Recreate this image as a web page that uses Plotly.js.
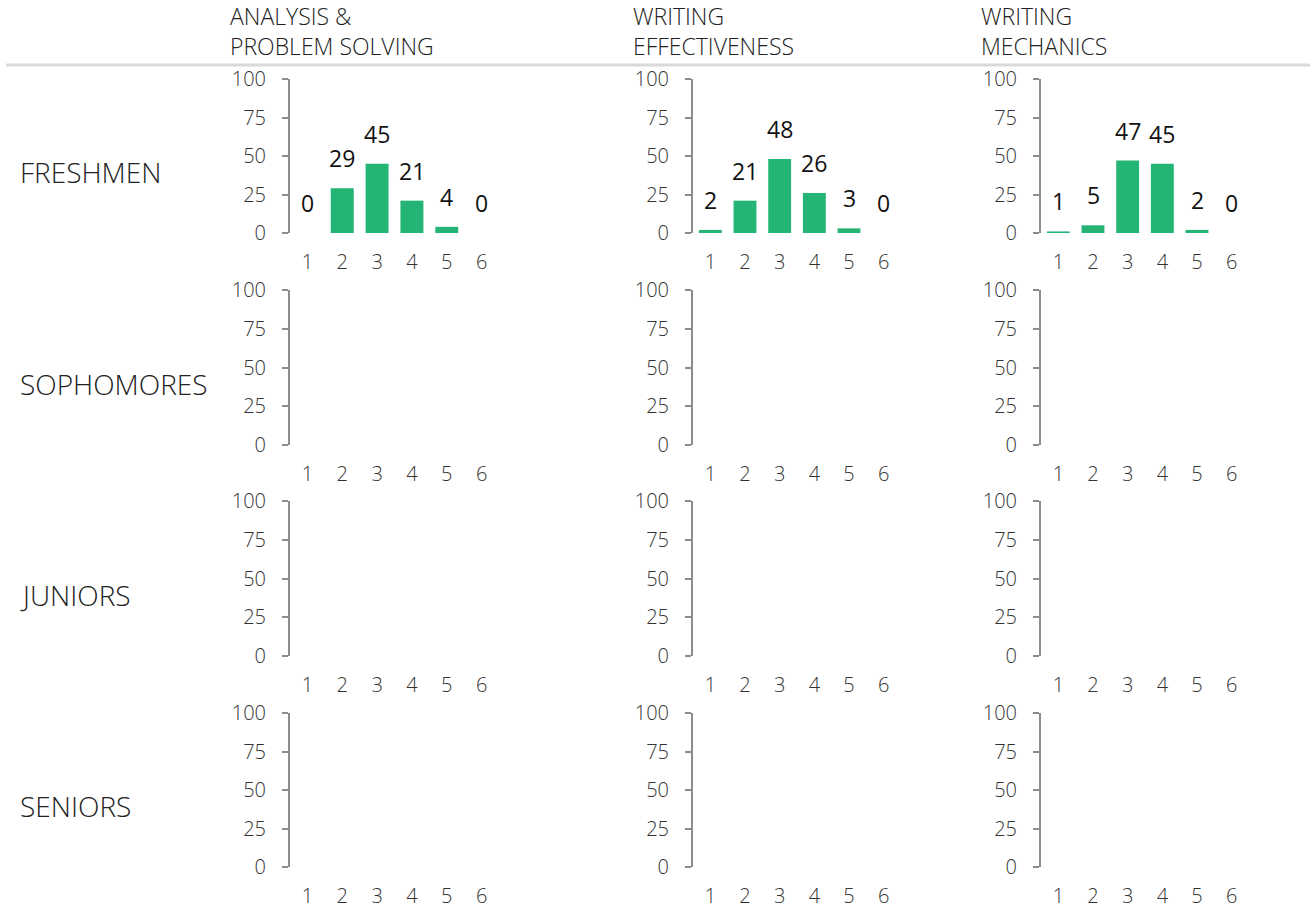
<!DOCTYPE html>
<html>
<head>
<meta charset="utf-8">
<script src="https://cdn.plot.ly/plotly-3.0.1.min.js"></script>
<style>html,body{margin:0;padding:0;background:#fff;}#chart{width:1310px;height:909px;}</style>
</head>
<body>
<div id="chart"></div>
<script>
// ---- data ----
const scores = [1, 2, 3, 4, 5, 6];
const columns = ["ANALYSIS &<br>PROBLEM SOLVING", "WRITING<br>EFFECTIVENESS", "WRITING<br>MECHANICS"];
const rows = ["FRESHMEN", "SOPHOMORES", "JUNIORS", "SENIORS"];
const yTicks = [0, 25, 50, 75, 100];

const freshmenAnalysis = [0, 29, 45, 21, 4, 0];
const freshmenEffectiveness = [2, 21, 48, 26, 3, 0];
const freshmenMechanics = [1, 5, 47, 45, 2, 0];
const sophomoresAnalysis = [];
const sophomoresEffectiveness = [];
const sophomoresMechanics = [];
const juniorsAnalysis = [];
const juniorsEffectiveness = [];
const juniorsMechanics = [];
const seniorsAnalysis = [];
const seniorsEffectiveness = [];
const seniorsMechanics = [];

const grid = [
  [freshmenAnalysis, freshmenEffectiveness, freshmenMechanics],
  [sophomoresAnalysis, sophomoresEffectiveness, sophomoresMechanics],
  [juniorsAnalysis, juniorsEffectiveness, juniorsMechanics],
  [seniorsAnalysis, seniorsEffectiveness, seniorsMechanics]
];

// ---- layout geometry (pixels) ----
const W = 1310, H = 909;
const colX = [[290, 499], [693, 901], [1041, 1249]];
const rowY = [[79, 233], [290, 445], [501, 656], [713, 867]];
const headerX = [228, 631, 979];
const FONT = "Open Sans, Lato, DejaVu Sans, sans-serif";
const barColor = "#24b574";

const data = [];
const layout = {
  width: W, height: H,
  margin: {l: 0, r: 0, t: 0, b: 0},
  paper_bgcolor: "#ffffff",
  plot_bgcolor: "rgba(0,0,0,0)",
  showlegend: false,
  bargap: 0.34,
  font: {family: FONT, color: "#333333", size: 20, weight: 300},
  annotations: [],
  shapes: [{
    type: "line", xref: "paper", yref: "paper",
    x0: 6 / W, x1: 1, y0: 1 - 65 / H, y1: 1 - 65 / H,
    line: {color: "#d9d9d9", width: 3}
  }]
};

rows.forEach((rowName, r) => {
  layout.annotations.push({
    xref: "paper", yref: "paper",
    x: 18 / W, y: 1 - ((rowY[r][0] + rowY[r][1]) / 2 + 16) / H,
    xanchor: "left", yanchor: "middle", showarrow: false,
    text: rowName,
    font: {family: FONT, size: 28, color: "#222222", weight: 300}
  });
  columns.forEach((colName, c) => {
    const k = r * 3 + c + 1;
    const xa = "x" + (k === 1 ? "" : k), ya = "y" + (k === 1 ? "" : k);
    const xName = "xaxis" + (k === 1 ? "" : k), yName = "yaxis" + (k === 1 ? "" : k);
    const vals = grid[r][c];
    data.push({
      type: "bar", x: scores.slice(0, vals.length), y: vals,
      xaxis: xa, yaxis: ya,
      marker: {color: barColor, line: {width: 0}},
      hoverinfo: "x+y"
    });
    vals.forEach((v, i) => {
      layout.annotations.push({
        xref: xa, yref: ya, x: scores[i], y: v,
        xanchor: "center", yanchor: "bottom", yshift: 12,
        showarrow: false, text: String(v),
        font: {family: FONT, size: 23, color: "#111111", weight: 500}
      });
    });
    layout[xName] = {
      domain: [colX[c][0] / W, colX[c][1] / W],
      anchor: ya,
      range: [0.5, 6.5],
      tickvals: scores,
      ticktext: scores.map(String),
      showline: false, showgrid: false, zeroline: false,
      ticks: "", ticklabelstandoff: 15,
      tickfont: {family: FONT, size: 20, color: "#333333", weight: 300},
      fixedrange: true
    };
    layout[yName] = {
      domain: [1 - rowY[r][1] / H, 1 - rowY[r][0] / H],
      anchor: xa,
      range: [0, 100],
      tickvals: yTicks,
      showline: true, linecolor: "#8c8c8c", linewidth: 2,
      ticks: "outside", ticklen: 6, tickcolor: "#8c8c8c", tickwidth: 2,
      showgrid: false, zeroline: false,
      ticklabelstandoff: 12,
      tickfont: {family: FONT, size: 20, color: "#333333", weight: 300},
      fixedrange: true
    };
  });
});

columns.forEach((colName, c) => {
  layout.annotations.push({
    xref: "paper", yref: "paper",
    x: headerX[c] / W, y: 1 + 2 / H,
    xanchor: "left", yanchor: "top", align: "left", showarrow: false,
    text: colName,
    font: {family: FONT, size: 23, color: "#222222", weight: 300}
  });
});

Plotly.newPlot("chart", data, layout, {displayModeBar: false, staticPlot: true});
</script>
</body>
</html>
